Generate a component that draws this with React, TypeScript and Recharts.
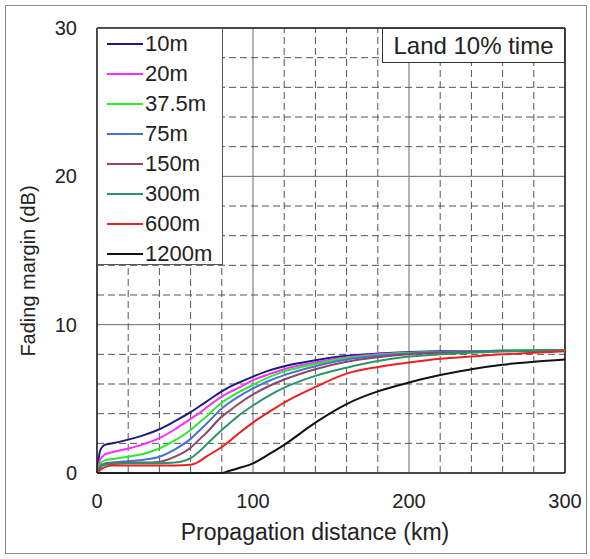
import React from "react";
import { LineChart, Line, XAxis, YAxis, CartesianGrid, ReferenceLine, Legend } from "recharts";

// propagation distance (km)
const distances = [0, 2, 5, 10, 20, 30, 40, 50, 60, 65, 70, 80, 85, 90, 100, 110, 120, 140, 160, 180, 200, 220, 240, 260, 280, 300];

// fading margin (dB) per antenna height
const h10m = [0, 1.5, 1.9, 2.0, 2.25, 2.55, 2.95, 3.5, 4.1, 4.45, 4.8, 5.5, 5.8, 6.05, 6.5, 6.9, 7.2, 7.6, 7.9, 8.05, 8.15, 8.2, 8.2, 8.25, 8.25, 8.3];
const h20m = [0, 0.9, 1.25, 1.4, 1.65, 1.95, 2.35, 2.95, 3.65, 4.0, 4.4, 5.15, 5.45, 5.7, 6.25, 6.65, 7.0, 7.45, 7.8, 8.0, 8.1, 8.15, 8.2, 8.25, 8.25, 8.3];
const h37m = [0, 0.6, 0.85, 0.95, 1.1, 1.3, 1.65, 2.2, 2.9, 3.35, 3.8, 4.75, 5.1, 5.4, 5.95, 6.45, 6.85, 7.35, 7.75, 7.95, 8.1, 8.15, 8.2, 8.25, 8.3, 8.3];
const h75m = [0, 0.45, 0.65, 0.7, 0.8, 0.9, 1.1, 1.6, 2.3, 2.8, 3.3, 4.35, 4.75, 5.1, 5.7, 6.2, 6.6, 7.2, 7.65, 7.9, 8.05, 8.15, 8.2, 8.25, 8.25, 8.3];
const h150m = [0, 0.4, 0.6, 0.65, 0.7, 0.7, 0.75, 1.1, 1.7, 2.2, 2.7, 3.8, 4.2, 4.6, 5.3, 5.85, 6.3, 7.0, 7.5, 7.8, 8.0, 8.1, 8.15, 8.2, 8.25, 8.3];
const h300m = [0, 0.35, 0.55, 0.6, 0.65, 0.65, 0.65, 0.7, 1.0, 1.4, 1.9, 2.9, 3.35, 3.8, 4.55, 5.2, 5.75, 6.55, 7.1, 7.55, 7.85, 8.0, 8.1, 8.2, 8.25, 8.3];
const h600m = [0, 0.2, 0.4, 0.5, 0.5, 0.5, 0.5, 0.5, 0.55, 0.75, 1.1, 1.75, 2.15, 2.6, 3.4, 4.1, 4.75, 5.8, 6.7, 7.15, 7.45, 7.7, 7.85, 8.0, 8.1, 8.2];
const h1200m = [0, 0, 0, 0, 0, 0, 0, 0, 0, 0, 0, 0, 0.15, 0.3, 0.65, 1.25, 1.9, 3.4, 4.65, 5.5, 6.1, 6.6, 7.0, 7.3, 7.5, 7.65];

const seriesNames = ["10m", "20m", "37.5m", "75m", "150m", "300m", "600m", "1200m"];
const seriesValues = [h10m, h20m, h37m, h75m, h150m, h300m, h600m, h1200m];
const seriesColors = ["#1c1c7e", "#ff2cff", "#2ee82e", "#4472d6", "#8a4866", "#2b9469", "#ee1f1f", "#111111"];

const xTicks = [0, 100, 200, 300];
const yTicks = [0, 10, 20, 30];
const xMinor = [20, 40, 60, 80, 120, 140, 160, 180, 220, 240, 260, 280];
const yMinor = [2, 4, 6, 8, 12, 14, 16, 18, 22, 24, 26, 28];

const data = distances.map((d, i) => {
  const row: Record<string, number> = { d };
  seriesNames.forEach((n, k) => (row[n] = seriesValues[k][i]));
  return row;
});

const FONT = "Arial, 'Liberation Sans', sans-serif";

function LegendBox({ payload }: any) {
  const items = [...(payload || [])].sort(
    (a: any, b: any) => seriesNames.indexOf(a.value) - seriesNames.indexOf(b.value)
  );
  return (
    <div style={{ width: 126, height: 237, boxSizing: "border-box", border: "1px solid #555", background: "#fff" }}>
      {items.map((e: any) => (
        <div key={e.value} style={{ display: "flex", alignItems: "center", height: 30, fontFamily: FONT, fontSize: 22, color: "#222" }}>
          <div style={{ width: 36, height: 2, background: e.color, marginLeft: 9, marginRight: 2 }} />
          <span>{e.value}</span>
        </div>
      ))}
    </div>
  );
}

export default function App() {
  return (
    <div style={{ position: "absolute", left: 0, top: 0, width: 590, height: 559, background: "#fff" }}>
      <div style={{ position: "absolute", left: 5, top: 5, width: 582, height: 549, border: "1.5px solid #8a8a8a", boxSizing: "border-box" }} />
      <LineChart width={590} height={559} data={data} margin={{ top: 28, right: 25, bottom: 56, left: 37 }}>
        <CartesianGrid stroke="#6a6a6a" strokeWidth={1} />
        {xMinor.map((v) => (
          <ReferenceLine key={"x" + v} x={v} stroke="#555" strokeDasharray="7 4" strokeWidth={1} />
        ))}
        {yMinor.map((v) => (
          <ReferenceLine key={"y" + v} y={v} stroke="#555" strokeDasharray="7 4" strokeWidth={1} />
        ))}
        <ReferenceLine x={300} stroke="#222" strokeWidth={1.5} />
        <ReferenceLine y={30} stroke="#222" strokeWidth={1.5} />
        <XAxis
          dataKey="d"
          type="number"
          domain={[0, 300]}
          ticks={xTicks}
          height={30}
          tickSize={0}
          tickMargin={21}
          stroke="#222"
          strokeWidth={1.5}
          tick={{ fill: "#222", fontSize: 20, fontFamily: FONT }}
        />
        <YAxis
          type="number"
          domain={[0, 30]}
          ticks={yTicks}
          width={60}
          tickSize={0}
          tickMargin={20}
          stroke="#222"
          strokeWidth={1.5}
          tick={{ fill: "#222", fontSize: 20, fontFamily: FONT }}
        />
        {seriesNames.map((n, k) => (
          <Line
            key={n}
            dataKey={n}
            name={n}
            type="monotone"
            stroke={seriesColors[k]}
            strokeWidth={2}
            dot={false}
            isAnimationActive={false}
          />
        ))}
        <Legend
          layout="vertical"
          align="center"
          verticalAlign="middle"
          content={<LegendBox />}
          wrapperStyle={{ left: 97, top: 28, width: 126, height: 237 }}
        />
      </LineChart>
      <div
        style={{
          position: "absolute", left: 382, top: 28, width: 183, height: 35, boxSizing: "border-box",
          border: "1.5px solid #333", background: "#fff", fontFamily: FONT, fontSize: 24, color: "#222",
          display: "flex", alignItems: "center", justifyContent: "center",
        }}
      >
        Land 10% time
      </div>
      <div
        style={{
          position: "absolute", left: 28, top: 271, transform: "translate(-50%, -50%) rotate(-90deg)",
          whiteSpace: "nowrap", fontFamily: FONT, fontSize: 20, color: "#222",
        }}
      >
        Fading margin (dB)
      </div>
      <div
        style={{
          position: "absolute", left: 315, top: 532, transform: "translate(-50%, -50%)",
          whiteSpace: "nowrap", fontFamily: FONT, fontSize: 23, color: "#222",
        }}
      >
        Propagation distance (km)
      </div>
    </div>
  );
}
